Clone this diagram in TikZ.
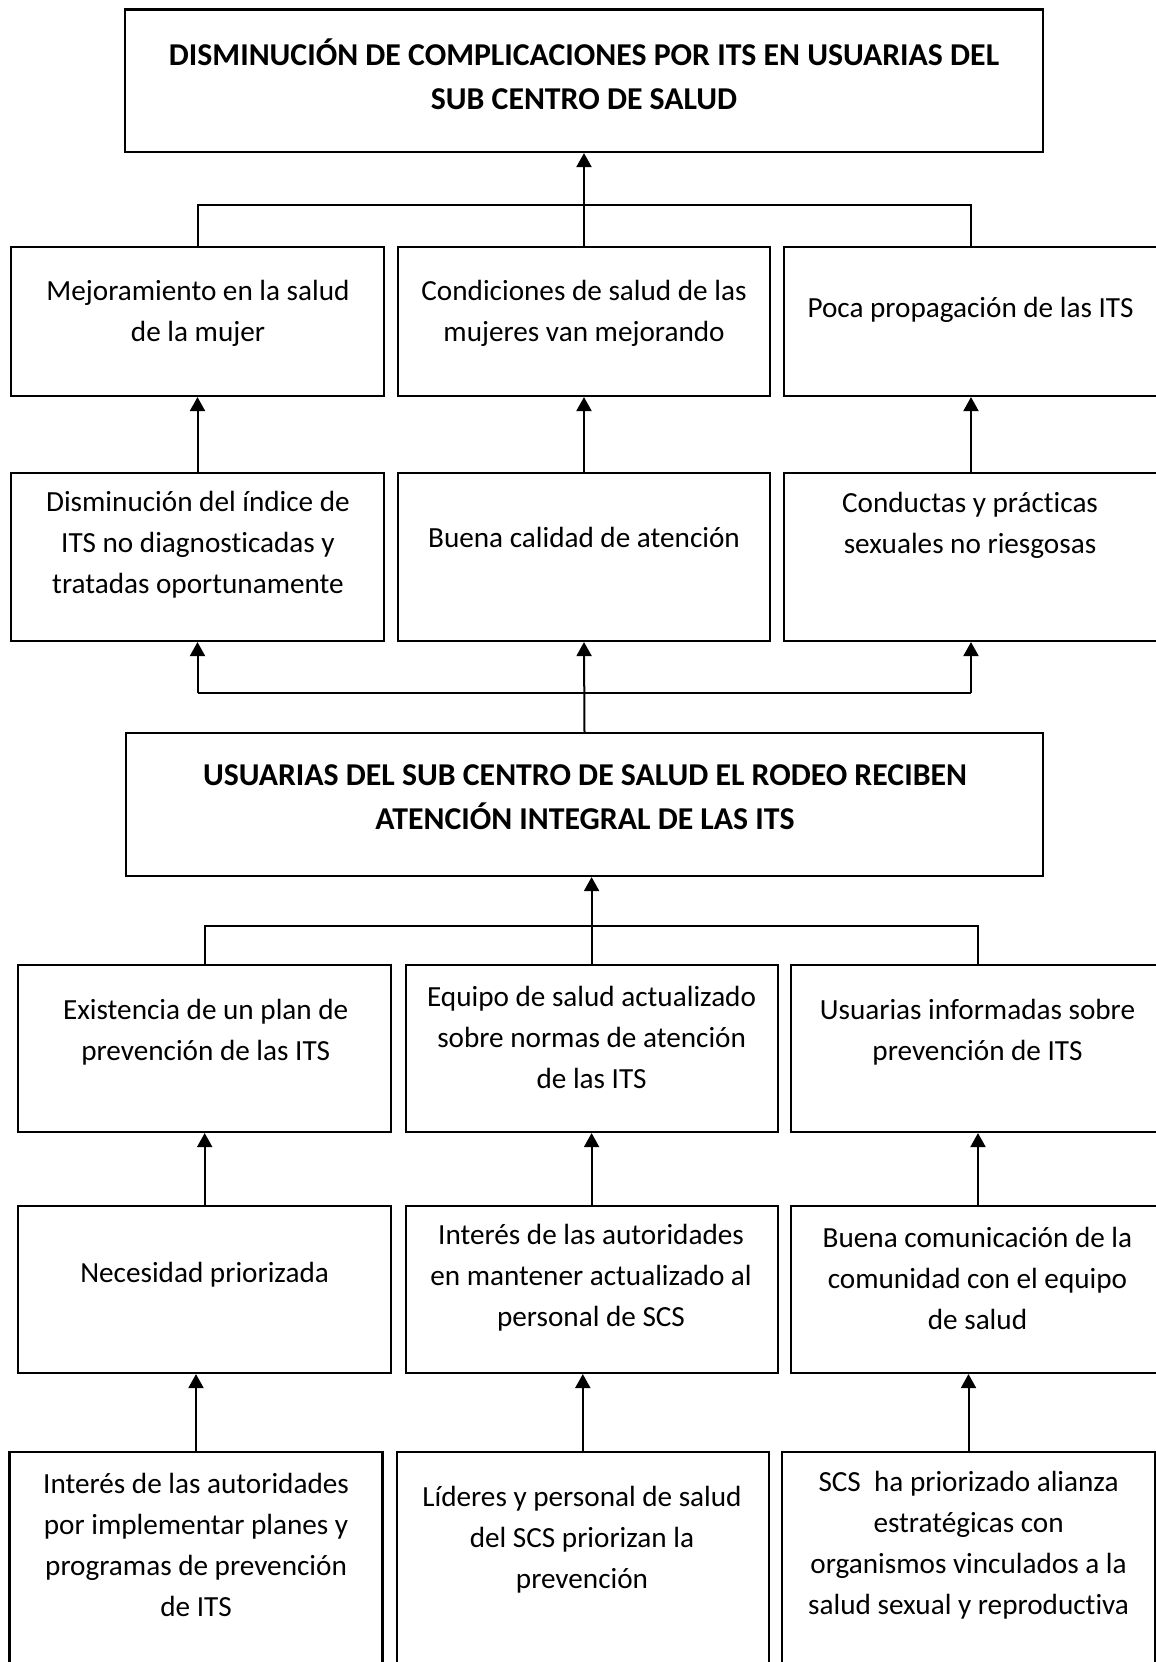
\documentclass[tikz,border=0pt]{standalone}
\usepackage{fontspec}
\setmainfont{Carlito}[Ligatures=NoCommon]
\usetikzlibrary{arrows.meta}
\begin{document}
\begin{tikzpicture}[x=0.5pt,y=-0.5pt,
  box/.style 2 args={draw,line width=1.05pt,inner sep=0pt,
    minimum width=#1*0.5pt,minimum height=#2*0.5pt},
  txt/.style={align=center,inner sep=0pt,font=\fontsize{14.6}{20.5}\selectfont},
  head/.style={align=center,inner sep=0pt,font=\fontsize{15.9}{22}\selectfont\bfseries},
  link/.style={line width=1pt},
  arr/.style={line width=1pt,-{Triangle[length=7pt,width=7.5pt]}}]
\useasboundingbox (0,0) rectangle (1156,1662);
\clip (0,0) rectangle (1156,1662);

% ---- boxes ----
\node[box={918}{142.5}] (top) at (584,80.75) {};
\node[box={373}{149}] (r1a) at (197.5,321.5) {};
\node[box={372}{149}] (r1b) at (584,321.5) {};
\node[box={374}{149}] (r1c) at (971,321.5) {};
\node[box={373}{168}] (r2a) at (197.5,557) {};
\node[box={372}{168}] (r2b) at (584,557) {};
\node[box={374}{168}] (r2c) at (971,557) {};
\node[box={917}{143}] (mid) at (584.5,804.5) {};
\node[box={372.6}{167}] (r3a) at (204.7,1048.5) {};
\node[box={372}{167}] (r3b) at (591.6,1048.5) {};
\node[box={374}{167}] (r3c) at (978,1048.5) {};
\node[box={372.6}{167}] (r4a) at (204.7,1289.5) {};
\node[box={372}{167}] (r4b) at (591.6,1289.5) {};
\node[box={374}{167}] (r4c) at (978,1289.5) {};
\node[box={373}{218}] (r5a) at (196,1561) {};
\node[box={372.4}{218}] (r5b) at (582.8,1561) {};
\node[box={373}{218}] (r5c) at (968.5,1561) {};

% ---- texts ----
\node[head] (ttop) at (584,74) {DISMINUCIÓN DE COMPLICACIONES POR ITS EN USUARIAS DEL\\SUB CENTRO DE SALUD};
\node[txt] (t1a) at (198,313) {Mejoramiento en la salud\\de la mujer};
\node[txt] (t1b) at (584,313) {Condiciones de salud de las\\mujeres van mejorando};
\node[txt] (t1c) at (970.5,310) {Poca propagación de las ITS};
\node[txt] (t2a) at (198,545) {Disminución del índice de\\ITS no diagnosticadas y\\tratadas oportunamente};
\node[txt] (t2b) at (584,537) {Buena calidad de atención};
\node[txt] (t2c) at (970,525) {Conductas y prácticas\\sexuales no riesgosas};
\node[head] (tmid) at (585,797) {USUARIAS DEL SUB CENTRO DE SALUD EL RODEO RECIBEN\\ATENCIÓN INTEGRAL DE LAS ITS};
\node[txt] (t3a) at (205.7,1032) {Existencia de un plan de\\prevención de las ITS};
\node[txt] (t3b) at (591.6,1037) {Equipo de salud actualizado\\sobre normas de atención\\de las ITS};
\node[txt] (t3c) at (977.5,1032) {Usuarias informadas sobre\\prevención de ITS};
\node[txt] (t4a) at (204.6,1275) {Necesidad priorizada};
\node[txt] (t4b) at (591,1278) {Interés de las autoridades\\en mantener actualizado al\\personal de SCS};
\node[txt] (t4c) at (977.5,1278) {Buena comunicación de la\\comunidad con el equipo\\de salud};
\node[txt] (t5a) at (196,1545) {Interés de las autoridades\\por implementar planes y\\programas de prevención\\de ITS};
\node[txt] (t5b) at (582,1540) {Líderes y personal de salud\\del SCS priorizan la\\prevención};
\node[txt] (t5c) at (968.6,1545) {SCS\ \ ha priorizado alianza\\estratégicas con\\organismos vinculados a la\\salud sexual y reproductiva};

% ---- junction points ----
\coordinate (bk1) at (584,205);
\coordinate (bk2) at (585,693);
\coordinate (bk3) at (592,926);

% ---- connectors: upper tree ----
\draw[link] (r1a.north) |- (bk1) -| (r1c.north);
\draw[arr] (r1b.north) -- (top.south);
\draw[arr] (r2a.north) -- (r1a.south);
\draw[arr] (r2b.north) -- (r1b.south);
\draw[arr] (r2c.north) -- (r1c.south);
\draw[link] (r2a.south |- bk2) -- (r2c.south |- bk2);
\draw[arr] (r2a.south |- bk2) -- (r2a.south);
\draw[arr] (r2c.south |- bk2) -- (r2c.south);
\draw[arr] (mid.north) -- (r2b.south);

% ---- connectors: lower tree ----
\draw[link] (r3a.north) |- (bk3) -| (r3c.north);
\draw[arr] (r3b.north) -- (r3b.north |- mid.south);
\draw[arr] (r4a.north) -- (r3a.south);
\draw[arr] (r4b.north) -- (r3b.south);
\draw[arr] (r4c.north) -- (r3c.south);
\draw[arr] (r5a.north) -- (r5a.north |- r4a.south);
\draw[arr] (r5b.north) -- (r5b.north |- r4b.south);
\draw[arr] (r5c.north) -- (r5c.north |- r4c.south);
\end{tikzpicture}
\end{document}
